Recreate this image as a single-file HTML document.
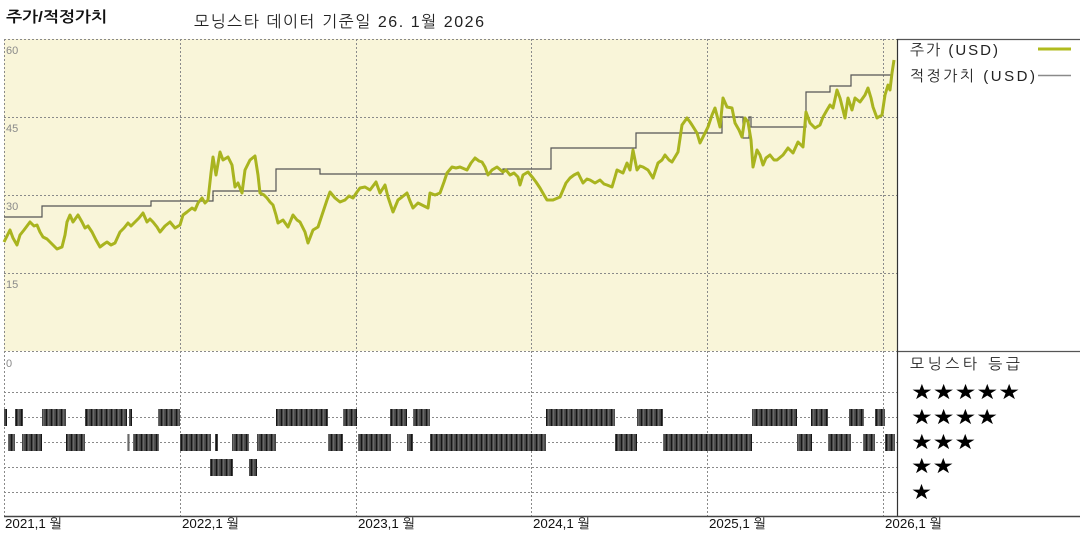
<!DOCTYPE html>
<html>
<head>
<meta charset="utf-8">
<style>
html,body{margin:0;padding:0;background:#fff;}
svg{display:block;}
text{font-family:"Liberation Sans","NanumGothic","Noto Sans CJK KR",sans-serif;}
</style>
</head>
<body>
<svg width="1080" height="540" viewBox="0 0 1080 540" xmlns="http://www.w3.org/2000/svg">
<defs>
<pattern id="st" width="5" height="20" patternUnits="userSpaceOnUse">
<rect width="5" height="20" fill="#454545"/>
<rect x="1" width="1" height="20" fill="#151515"/>
<rect x="3.3" width="0.9" height="20" fill="#767676"/>
</pattern>
</defs>

<!-- headers -->
<text x="6" y="22" font-size="15" font-weight="bold" fill="#111" textLength="101" lengthAdjust="spacingAndGlyphs">주가/적정가치</text>
<text x="194" y="27" font-size="16" fill="#222" textLength="290" lengthAdjust="spacing">모닝스타 데이터 기준일 26. 1월 2026</text>

<!-- plot background -->
<rect x="4" y="39" width="893" height="312" fill="#f9f5d9"/>

<!-- grid -->
<g stroke="#8a8a8a" stroke-width="1" stroke-dasharray="2,2" fill="none">
<line x1="4" y1="39.5" x2="897" y2="39.5"/>
<line x1="4" y1="117.5" x2="897" y2="117.5"/>
<line x1="4" y1="195.5" x2="897" y2="195.5"/>
<line x1="4" y1="273.5" x2="897" y2="273.5"/>
<line x1="4" y1="351.5" x2="897" y2="351.5"/>
<line x1="4" y1="392.5" x2="897" y2="392.5"/>
<line x1="4" y1="417.5" x2="897" y2="417.5"/>
<line x1="4" y1="442.5" x2="897" y2="442.5"/>
<line x1="4" y1="467.5" x2="897" y2="467.5"/>
<line x1="4" y1="492.5" x2="897" y2="492.5"/>
<line x1="4.5" y1="39" x2="4.5" y2="516"/>
<line x1="180.5" y1="39" x2="180.5" y2="516"/>
<line x1="356.5" y1="39" x2="356.5" y2="516"/>
<line x1="531.5" y1="39" x2="531.5" y2="516"/>
<line x1="707.5" y1="39" x2="707.5" y2="516"/>
<line x1="883.5" y1="39" x2="883.5" y2="516"/>
</g>

<!-- solid frame lines -->
<line x1="897" y1="39.5" x2="1080" y2="39.5" stroke="#555" stroke-width="1.2"/>
<line x1="897" y1="351.5" x2="1080" y2="351.5" stroke="#555" stroke-width="1.2"/>
<line x1="897.5" y1="39" x2="897.5" y2="516" stroke="#333" stroke-width="1.2"/>
<line x1="4" y1="516.5" x2="1080" y2="516.5" stroke="#444" stroke-width="1.5"/>

<!-- y labels -->
<g font-size="11" fill="#8a8a8a">
<text x="6" y="54">60</text>
<text x="6" y="132">45</text>
<text x="6" y="210">30</text>
<text x="6" y="288">15</text>
<text x="6" y="367">0</text>
</g>

<!-- fair value -->
<path d="M4,217 H42 V206 H151 V201 H213 V191 H276 V169 H320 V174 H503 V169 H551 V148 H636 V133 H722 V117 H743 V138 H749 V117 H751 V127 H806 V92 H830 V86 H851 V75 H892" fill="none" stroke="#555" stroke-width="1.2"/>

<!-- price -->
<polyline fill="none" stroke="#a9b41f" stroke-width="3" stroke-linejoin="round" points="4,242 7,236 10,230 13,238 17,245 20,235 24,230 27,226 30,222 34,226 37,225 40,232 43,237 47,239 50,242 54,246 57,249 62,247 65,235 67,222 70,215 73,222 78,215 82,222 85,228 88,226 92,232 96,240 100,247 104,244 107,242 111,245 115,243 120,232 124,228 128,223 131,226 135,222 139,218 143,213 147,222 150,219 153,222 157,227 160,232 165,226 170,222 175,228 180,225 183,215 187,212 192,208 195,210 198,203 202,198 205,203 208,200 211,173 213,157 216,175 220,152 223,160 228,157 232,165 235,187 238,183 242,193 245,170 250,160 255,156 258,175 260,193 264,195 267,198 270,202 273,205 276,215 278,223 283,220 288,227 293,215 297,220 300,222 305,232 308,243 313,230 318,227 323,212 327,200 330,192 335,198 340,202 345,200 349,196 353,198 357,192 360,188 365,187 370,190 376,182 380,193 385,185 388,197 393,212 398,200 402,197 407,193 410,201 413,208 418,203 422,205 428,208 430,193 435,195 440,193 444,182 447,173 452,167 456,168 460,167 467,170 471,163 475,158 479,161 482,162 485,167 488,175 492,170 497,167 503,172 506,170 510,175 514,173 518,177 520,185 523,175 528,172 533,178 536,182 540,188 544,195 547,200 553,200 560,197 563,190 566,183 570,178 574,175 578,173 583,183 587,179 590,180 595,183 600,180 604,184 607,185 612,187 615,177 617,170 623,173 627,163 630,170 633,150 637,170 640,166 643,167 648,170 653,178 658,163 662,160 665,155 669,160 672,162 678,152 682,125 687,118 690,122 692,125 697,133 700,143 703,137 708,127 712,115 715,108 720,127 723,98 727,107 732,108 735,123 739,130 742,137 745,118 748,122 751,140 753,167 757,150 760,155 763,165 766,158 770,155 774,160 777,160 783,155 788,148 793,153 798,142 803,147 806,112 810,123 815,128 820,125 823,117 827,110 830,105 833,108 837,90 840,98 845,118 848,98 852,110 855,98 860,102 865,95 868,88 871,98 873,107 877,118 882,115 885,95 888,85 890,90 892,73 894,60"/>

<!-- rating bars -->
<g fill="url(#st)">
<rect x="4" y="409" width="3" height="17"/>
<rect x="15" y="409" width="8" height="17"/>
<rect x="42" y="409" width="24" height="17"/>
<rect x="85" y="409" width="42" height="17"/>
<rect x="129" y="409" width="3" height="17"/>
<rect x="158" y="409" width="22" height="17"/>
<rect x="276" y="409" width="52" height="17"/>
<rect x="343" y="409" width="14" height="17"/>
<rect x="390" y="409" width="17" height="17"/>
<rect x="413" y="409" width="17" height="17"/>
<rect x="546" y="409" width="69" height="17"/>
<rect x="637" y="409" width="26" height="17"/>
<rect x="752" y="409" width="45" height="17"/>
<rect x="811" y="409" width="17" height="17"/>
<rect x="849" y="409" width="15" height="17"/>
<rect x="875" y="409" width="10" height="17"/>
<rect x="8" y="434" width="7" height="17"/>
<rect x="22" y="434" width="20" height="17"/>
<rect x="66" y="434" width="19" height="17"/>
<rect x="127.5" y="434" width="2" height="17"/>
<rect x="133" y="434" width="26" height="17"/>
<rect x="180" y="434" width="31" height="17"/>
<rect x="215" y="434" width="3" height="17"/>
<rect x="232" y="434" width="17" height="17"/>
<rect x="257" y="434" width="19" height="17"/>
<rect x="328" y="434" width="15" height="17"/>
<rect x="358" y="434" width="33" height="17"/>
<rect x="407" y="434" width="6" height="17"/>
<rect x="430" y="434" width="116" height="17"/>
<rect x="615" y="434" width="22" height="17"/>
<rect x="663" y="434" width="89" height="17"/>
<rect x="797" y="434" width="15" height="17"/>
<rect x="828" y="434" width="23" height="17"/>
<rect x="863" y="434" width="12" height="17"/>
<rect x="885" y="434" width="10" height="17"/>
<rect x="210" y="459" width="23" height="17"/>
<rect x="249" y="459" width="8" height="17"/>
</g>

<!-- legend -->
<g font-size="15" fill="#222">
<text x="910" y="55" textLength="88" lengthAdjust="spacing">주가 (USD)</text>
<text x="910" y="81" textLength="125" lengthAdjust="spacing">적정가치 (USD)</text>
<text x="910" y="369" textLength="110" lengthAdjust="spacing">모닝스타 등급</text>
</g>
<line x1="1038" y1="49" x2="1071" y2="49" stroke="#b0bb1e" stroke-width="3"/>
<line x1="1038" y1="75.5" x2="1071" y2="75.5" stroke="#8a8a8a" stroke-width="1.5"/>

<g font-size="21" fill="#000">
<text x="911" y="399" textLength="109" lengthAdjust="spacingAndGlyphs" style="font-family:'DejaVu Sans',sans-serif">★★★★★</text>
<text x="911" y="424" textLength="87" lengthAdjust="spacingAndGlyphs" style="font-family:'DejaVu Sans',sans-serif">★★★★</text>
<text x="911" y="449" textLength="65" lengthAdjust="spacingAndGlyphs" style="font-family:'DejaVu Sans',sans-serif">★★★</text>
<text x="911" y="473" textLength="43" lengthAdjust="spacingAndGlyphs" style="font-family:'DejaVu Sans',sans-serif">★★</text>
<text x="911" y="499" textLength="21" lengthAdjust="spacingAndGlyphs" style="font-family:'DejaVu Sans',sans-serif">★</text>
</g>

<!-- x labels -->
<g font-size="13" fill="#111">
<text x="5" y="528" textLength="57" lengthAdjust="spacingAndGlyphs">2021,1 월</text>
<text x="182" y="528" textLength="57" lengthAdjust="spacingAndGlyphs">2022,1 월</text>
<text x="358" y="528" textLength="57" lengthAdjust="spacingAndGlyphs">2023,1 월</text>
<text x="533" y="528" textLength="57" lengthAdjust="spacingAndGlyphs">2024,1 월</text>
<text x="709" y="528" textLength="57" lengthAdjust="spacingAndGlyphs">2025,1 월</text>
<text x="885" y="528" textLength="57" lengthAdjust="spacingAndGlyphs">2026,1 월</text>
</g>
</svg>
</body>
</html>
